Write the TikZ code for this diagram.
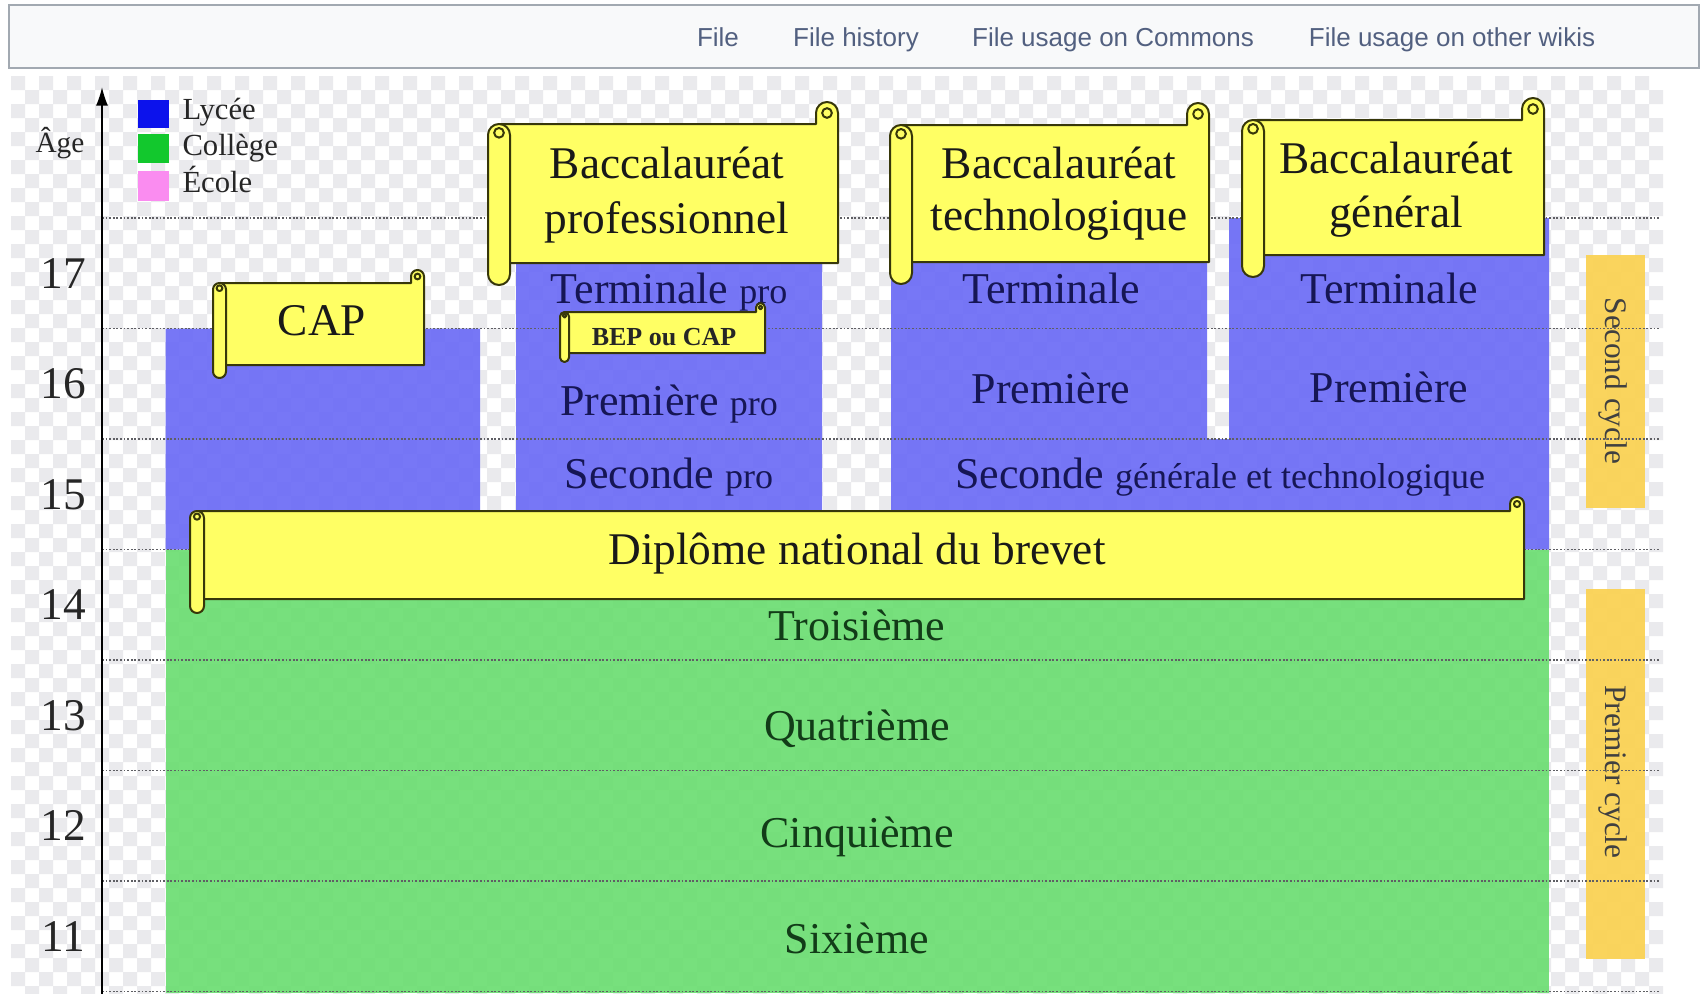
\documentclass[tikz,border=0pt]{standalone}
\usepackage{fontspec}
\setmainfont{Liberation Serif}
\newfontfamily\menufont{Liberation Sans}
\usetikzlibrary{arrows.meta}

\definecolor{menuedge}{RGB}{162,169,177}
\definecolor{menufill}{RGB}{248,249,250}
\definecolor{menutext}{RGB}{82,96,128}
\definecolor{checkergray}{RGB}{234,234,237}
\definecolor{lyceeblue}{RGB}{12,18,236}
\definecolor{collegegreen}{RGB}{18,200,45}
\definecolor{ecolepink}{RGB}{250,140,240}
\definecolor{bandblue}{RGB}{108,108,246}
\definecolor{bandgreen}{RGB}{108,222,114}
\definecolor{cyclebar}{RGB}{250,210,85}
\definecolor{scrollfill}{RGB}{255,255,100}
\definecolor{scrolledge}{RGB}{55,55,10}
\definecolor{bluetext}{RGB}{22,22,85}
\definecolor{greentext}{RGB}{18,60,24}
\definecolor{gridgray}{RGB}{95,95,100}

\newcommand{\rowfont}{\fontsize{33}{40}\selectfont}
\newcommand{\smallrowfont}{\fontsize{27}{32}\selectfont}
\newcommand{\diplomafont}{\fontsize{34}{40}\selectfont}
\newcommand{\agefont}{\fontsize{34}{40}\selectfont}
\newcommand{\legendfont}{\fontsize{23}{28}\selectfont}
\newcommand{\cyclefont}{\fontsize{23.5}{28}\selectfont}

% x0, y0, x1, y1, roll size
\newcommand{\drawscroll}[5]{%
  \pgfmathsetmacro{\scrollr}{0.375*#5}%
  \draw[scroll] ({#1+0.5*#5},{#2+#5}) -- ({#3-#5},{#2+#5}) -- ({#3-#5},{#2+0.5*#5})
    arc[start angle=180,end angle=360,radius={0.5*#5}] -- ({#3},{#4-#5}) -- ({#1+0.5*#5},{#4-#5}) -- cycle ;
  \draw[scroll] ({#3-0.5*#5},{#2+0.5*#5}) circle[radius={0.22*#5}] ;
  \draw[scroll, rounded corners=\scrollr pt] (#1,{#2+#5}) rectangle ({#1+#5},#4) ;
  \draw[scroll] ({#1+0.5*#5},{#2+1.4*#5}) circle[radius={0.22*#5}] ;
}

\tikzset{every picture/.style={line width=0.75pt}}
\tikzset{
  scroll/.style={draw=scrolledge, fill=scrollfill, line width=1.5pt, line join=round},
  agegrid/.style={draw=gridgray, line width=1.3pt, dash pattern=on 1.3pt off 1.4pt},
  rowlabel/.style={anchor=base, inner sep=0.75pt, font=\rowfont},
  lyceerow/.style={rowlabel, text=bluetext},
  collegerow/.style={rowlabel, text=greentext},
  diploma/.style={anchor=base, inner sep=0.75pt, font=\diplomafont, text=black!90},
  legendlabel/.style={anchor=base west, inner sep=0.75pt, font=\legendfont, text=black!85},
  cyclelabel/.style={inner sep=0.75pt, font=\cyclefont, text=black!75, rotate=-90},
  menulink/.style={anchor=base, inner sep=0.75pt, font=\menufont\fontsize{19.5}{23}\selectfont, text=menutext}
}

\begin{document}
\begin{tikzpicture}[x=0.75pt,y=0.75pt,yscale=-1,xscale=1]
\useasboundingbox (0,0) rectangle (1708,993);
\fill[white] (0,0) rectangle (1708,993);

%Shape: Checker background
\fill[checkergray] \foreach \r in {0,...,65}{ \foreach \c in {0,...,58}{ ({11+(2*\c+mod(\r,2))*14},{76+\r*14}) rectangle ++(14,14) } } ;

%Shape: Menu bar
\draw[menuedge, fill=menufill, line width=1.5pt] (9,5) rectangle (1699,68) ;
% Text Node
\node[menulink] (menufile) at (718,46) {File};
\node[menulink] (menuhistory) at (856,46) {File history};
\node[menulink] (menucommons) at (1113,46) {File usage on Commons};
\node[menulink] (menuwikis) at (1452,46) {File usage on other wikis};

%Shape: Lycée bands
\fill[bandblue, opacity=0.92] (165.5,328.5) rectangle (480,549.5) (516,218) rectangle (822,549.5)
  (891,218) rectangle (1207,549.5) (1229,218) rectangle (1549,549.5) (1207,439) rectangle (1229,549.5)
  (165.5,510) rectangle (1549,549.5) ;
%Shape: Collège band
\fill[bandgreen, opacity=0.92] (165.5,549.5) rectangle (1549,993) ;

%Shape: Cycle bars
\fill[cyclebar, opacity=0.95] (1586,255) rectangle (1645,508) ;
\fill[cyclebar, opacity=0.95] (1586,589) rectangle (1645,959) ;

%Shape: Age grid
\foreach \k in {0,...,7} \draw[agegrid] (102,{218+110.5*\k}) -- (1660,{218+110.5*\k}) ;

%Shape: Age axis
\coordinate (axisfoot) at (102,995);
\coordinate (axistop) at (102,87);
\draw[line width=1.2pt, -{Latex[length=14pt,width=9pt]}] (axisfoot) -- (axistop) ;

% Text Node
\node[inner sep=0.75pt, anchor=base, font=\fontsize{22}{26}\selectfont, text=black!85] (agetitle) at (60,152) {Âge};
\foreach \a [count=\k from 0] in {17,16,15,14,13,12,11}
  \node[inner sep=0.75pt, font=\agefont, text=black!85] (age\a) at (63,{273.25+110.5*\k}) {\a};

%Shape: Legend
\fill[lyceeblue] (138,100) rectangle (169,128) ;
\fill[collegegreen] (138,134) rectangle (169,163) ;
\fill[ecolepink] (138,171) rectangle (169,201) ;
\node[legendlabel] (leglycee) at (181,119) {Lycée};
\node[legendlabel] (legcollege) at (181,155) {Collège};
\node[legendlabel] (legecole) at (181,192) {École};

% Text Node
\node[lyceerow] (terminalepro) at (669,303) {Terminale {\smallrowfont pro}};
\node[lyceerow] (premierepro) at (669,415) {Première {\smallrowfont pro}};
\node[lyceerow] (secondepro) at (669,488) {Seconde {\smallrowfont pro}};
\node[lyceerow] (terminaletechno) at (1051,303) {Terminale};
\node[lyceerow] (premieretechno) at (1051,403) {Première};
\node[lyceerow] (terminalegen) at (1389,303) {Terminale};
\node[lyceerow] (premieregen) at (1389,402) {Première};
\node[lyceerow] (secondegt) at (1220,488) {Seconde {\smallrowfont générale et technologique}};
\node[collegerow] (troisieme) at (857,640) {Troisième};
\node[collegerow] (quatrieme) at (857,740) {Quatrième};
\node[collegerow] (cinquieme) at (857,847) {Cinquième};
\node[collegerow] (sixieme) at (857,953) {Sixième};

%Shape: Scroll CAP
\drawscroll{213}{270}{424}{378}{13}
%Shape: Scroll Bac pro
\drawscroll{488}{102}{838}{285}{22}
%Shape: Scroll Bac techno
\drawscroll{890}{103}{1209}{284}{22}
%Shape: Scroll Bac général
\drawscroll{1242}{98}{1544}{277}{22}
%Shape: Scroll BEP ou CAP
\drawscroll{560}{303}{765}{362}{9}
%Shape: Scroll brevet
\drawscroll{190}{497}{1524}{613}{14}

% Text Node
\node[diploma] (cap) at (322,335) {CAP};
\node[diploma] (bacpro1) at (667,178) {Baccalauréat};
\node[diploma] (bacpro2) at (667,233) {professionnel};
\node[diploma] (bactechno1) at (1059,178) {Baccalauréat};
\node[diploma] (bactechno2) at (1059,230) {technologique};
\node[diploma] (bacgen1) at (1396,173) {Baccalauréat};
\node[diploma] (bacgen2) at (1396,227) {général};
\node[anchor=base, inner sep=0.75pt, font=\bfseries\fontsize{19.5}{23}\selectfont, text=black!85] (bepcap) at (664,345) {BEP ou CAP};
\node[diploma] (brevet) at (857,564) {Diplôme national du brevet};

% Text Node
\node[cyclelabel] (secondcycle) at (1613,381) {Second cycle};
\node[cyclelabel] (premiercycle) at (1613,772) {Premier cycle};

\end{tikzpicture}
\end{document}
